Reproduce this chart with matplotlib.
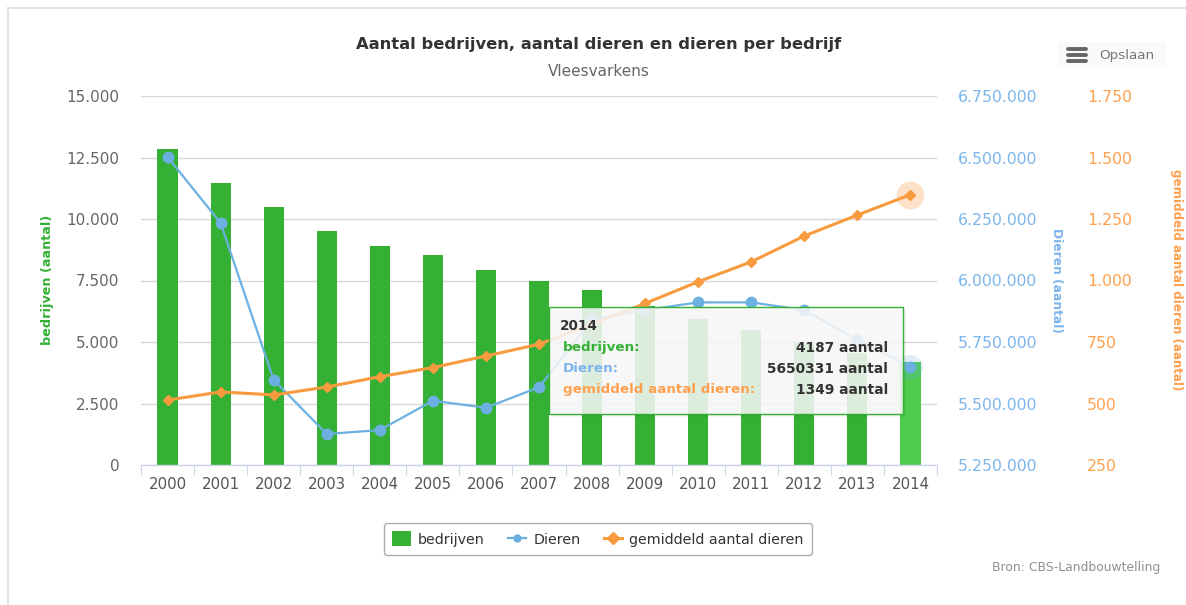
import matplotlib
matplotlib.use('Agg')
import matplotlib.pyplot as plt
from matplotlib.ticker import FixedLocator, FuncFormatter
from matplotlib.patches import Rectangle
from matplotlib.lines import Line2D
import numpy as np

# ---------------- data ----------------
years = ['2000', '2001', '2002', '2003', '2004', '2005', '2006', '2007',
         '2008', '2009', '2010', '2011', '2012', '2013', '2014']
bedrijven = [12850, 11470, 10500, 9500, 8900, 8540, 7920, 7500,
             7110, 6480, 5940, 5490, 4980, 4550, 4187]
dieren = [6502000, 6234000, 5596000, 5376000, 5392000, 5511000, 5483000, 5566000,
          5842000, 5880000, 5911000, 5911000, 5880000, 5758000, 5650331]
gemiddeld = [514, 547, 535, 567, 609, 646, 693, 741,
             822, 907, 995, 1076, 1181, 1266, 1349]

left_ticks = [0, 2500, 5000, 7500, 10000, 12500, 15000]
dieren_ticks = [5250000, 5500000, 5750000, 6000000, 6250000, 6500000, 6750000]
gem_ticks = [250, 500, 750, 1000, 1250, 1500, 1750]

title = 'Aantal bedrijven, aantal dieren en dieren per bedrijf'
subtitle = 'Vleesvarkens'
source = 'Bron: CBS-Landbouwtelling'

# ---------------- style ----------------
W, H = 1186, 605
GREEN = '#34b034'
GREEN_HL = '#4ccb4c'
BLUE = '#6cb0e2'
BLUE_LBL = '#7cb5ec'
ORANGE = '#f89a3e'
ORANGE_LBL = '#ffa04e'
GRID = '#d8d8d8'
AXIS = '#ccd6eb'

plt.rcParams['font.family'] = ['DejaVu Sans']

def fx(x):
    return x / W

def fy(y):
    return 1 - y / H

def thousands(v, pos=None):
    return f"{int(round(v)):,}".replace(',', '.')

fig = plt.figure(figsize=(W / 100, H / 100), dpi=100)
fig.patch.set_facecolor('white')

# frame (left and top edges visible)
fig.add_artist(Line2D([fx(8), fx(8)], [fy(8), 0], color='#e2e2e2', lw=1.5))
fig.add_artist(Line2D([fx(8), 1.01], [fy(8), fy(8)], color='#e2e2e2', lw=1.5))

ax = fig.add_axes([fx(141), fy(465), (937 - 141) / W, (465 - 96) / H])
x = np.arange(len(years))

bar_colors = [GREEN] * (len(years) - 1) + [GREEN_HL]
bars = ax.bar(x, bedrijven, width=0.38, color=bar_colors, zorder=2, label='bedrijven')
ax.set_xlim(-0.5, len(years) - 0.5)
ax.set_ylim(left_ticks[0], left_ticks[-1])
ax.yaxis.set_major_locator(FixedLocator(left_ticks))
ax.yaxis.set_major_formatter(FuncFormatter(thousands))
ax.grid(axis='y', color=GRID, lw=1.0, zorder=0)
ax.set_axisbelow(True)
for s in ['left', 'right', 'top']:
    ax.spines[s].set_visible(False)
ax.spines['bottom'].set_color(AXIS)
ax.spines['bottom'].set_linewidth(1.0)
ax.tick_params(axis='y', length=0, pad=15.5, labelcolor='#666666', labelsize=11)
ax.set_xticks(x)
ax.set_xticklabels(years)
ax.set_xticks(np.arange(-0.5, len(years), 1.0), minor=True)
ax.tick_params(axis='x', which='major', length=0, pad=8.5, labelcolor='#555555', labelsize=10.8)
ax.tick_params(axis='x', which='minor', length=7.5, width=0.8, color=AXIS)

# Dieren axis
ax2 = ax.twinx()
ax2.set_ylim(dieren_ticks[0], dieren_ticks[-1])
ax2.yaxis.set_major_locator(FixedLocator(dieren_ticks))
ax2.yaxis.set_major_formatter(FuncFormatter(thousands))
ax2.tick_params(axis='y', length=0, pad=15, labelcolor=BLUE_LBL, labelsize=11.3)
for s in ax2.spines.values():
    s.set_visible(False)
ax2.plot(x[-1], dieren[-1], 'o', ms=18, color=BLUE, alpha=0.22, mec='none', zorder=1)
line_d, = ax2.plot(x, dieren, '-o', color=BLUE, lw=1.6, ms=8.5, mec='none',
                   label='Dieren', zorder=3)

# gemiddeld axis
ax3 = ax.twinx()
ax3.set_ylim(gem_ticks[0], gem_ticks[-1])
ax3.yaxis.set_major_locator(FixedLocator(gem_ticks))
ax3.yaxis.set_major_formatter(FuncFormatter(thousands))
ax3.tick_params(axis='y', length=0, pad=108, labelcolor=ORANGE_LBL, labelsize=11.3)
for s in ax3.spines.values():
    s.set_visible(False)
ax3.plot(x[-1], gemiddeld[-1], 'o', ms=20, color=ORANGE, alpha=0.28, mec='none', zorder=1)
line_g, = ax3.plot(x, gemiddeld, '-D', color=ORANGE, lw=2.2, ms=5, mec=ORANGE,
                   label='gemiddeld aantal dieren', zorder=3)

# axis titles
fig.text(fx(47), fy(280), 'bedrijven (aantal)', rotation=90, ha='center', va='center',
         color=GREEN, fontsize=9.2, fontweight='bold')
fig.text(fx(1056), fy(280), 'Dieren (aantal)', rotation=270, ha='center', va='center',
         color=BLUE_LBL, fontsize=8.8, fontweight='bold')
fig.text(fx(1177), fy(280), 'gemiddeld aantal dieren (aantal)', rotation=270, ha='center',
         va='center', color=ORANGE_LBL, fontsize=8.6, fontweight='bold')

# title & subtitle
fig.text(fx(599), fy(45), title, ha='center', va='center', fontsize=11.8,
         fontweight='bold', color='#333333')
fig.text(fx(599), fy(72), subtitle, ha='center', va='center', fontsize=11, color='#666666')

# Opslaan button
fig.add_artist(Rectangle((fx(1058), fy(67)), (1166 - 1058) / W, 25 / H,
                         transform=fig.transFigure, facecolor='#fafafa', edgecolor='none'))
for yy in (49, 55, 61):
    fig.add_artist(Line2D([fx(1068), fx(1086)], [fy(yy), fy(yy)], color='#666666',
                          lw=2.8, solid_capstyle='round'))
fig.text(fx(1099), fy(55), 'Opslaan', ha='left', va='center', fontsize=9.7, color='#777777')

# legend
leg = fig.legend(handles=[bars, line_d, line_g],
                 labels=['bedrijven', 'Dieren', 'gemiddeld aantal dieren'],
                 loc='center', bbox_to_anchor=(fx(598), fy(539)), ncol=3,
                 frameon=True, fancybox=True, fontsize=10.3, handlelength=1.3,
                 handleheight=1.2, handletextpad=0.5, columnspacing=1.6,
                 borderpad=0.6, labelcolor='#333333')
leg.get_frame().set_edgecolor('#999999')
leg.get_frame().set_linewidth(1.0)
for h in leg.legend_handles[1:]:
    h.set_markersize(6)

# source
fig.text(fx(1160), fy(567), source, ha='right', va='center', fontsize=8.9, color='#909090')

# tooltip
tx0, tx1, ty0, ty1 = 549, 903, 307, 414
for i, a in enumerate([0.05, 0.04, 0.03]):
    fig.add_artist(Rectangle((fx(tx0 + 1 + i), fy(ty1 + 1 + i)), (tx1 - tx0) / W,
                             (ty1 - ty0) / H, transform=fig.transFigure,
                             facecolor='black', alpha=a, edgecolor='none'))
fig.add_artist(Rectangle((fx(tx0), fy(ty1)), (tx1 - tx0) / W, (ty1 - ty0) / H,
                         transform=fig.transFigure, facecolor='#fbfbfb', alpha=0.86,
                         edgecolor='none'))
fig.add_artist(Rectangle((fx(tx0), fy(ty1)), (tx1 - tx0) / W, (ty1 - ty0) / H,
                         transform=fig.transFigure, facecolor='none',
                         edgecolor=GREEN, lw=1.0))
fig.text(fx(560), fy(326), years[-1], ha='left', va='center', fontsize=9.8,
         fontweight='bold', color='#333333')
rows = [('bedrijven:', f'{bedrijven[-1]} aantal', GREEN),
        ('Dieren:', f'{dieren[-1]} aantal', BLUE_LBL),
        ('gemiddeld aantal dieren:', f'{gemiddeld[-1]} aantal', ORANGE_LBL)]
for (lab, val, col), yy in zip(rows, (348, 369, 390)):
    fig.text(fx(563), fy(yy), lab, ha='left', va='center', fontsize=9.7,
             fontweight='bold', color=col)
    fig.text(fx(888), fy(yy), val, ha='right', va='center', fontsize=9.9,
             fontweight='bold', color='#333333')

fig.savefig('out.png', dpi=100, facecolor='white')
